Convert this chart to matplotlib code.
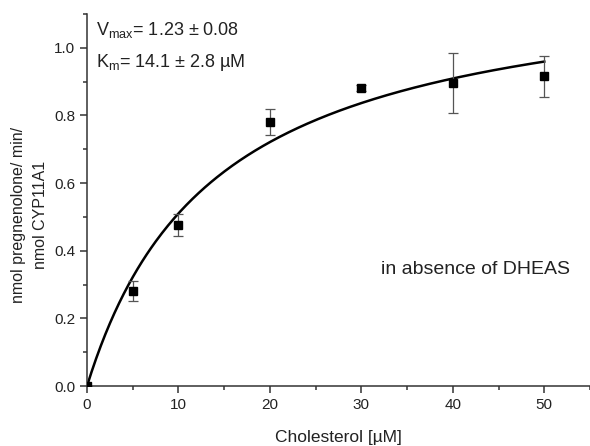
import matplotlib.pyplot as plt
import numpy as np
from matplotlib.ticker import MultipleLocator

plt.rcParams['font.family'] = ['Liberation Sans', 'DejaVu Sans']

# measured points
cholesterol = [0, 5, 10, 20, 30, 40, 50]
activity = [0.0, 0.281, 0.476, 0.780, 0.881, 0.896, 0.916]
errors = [0.0, 0.029, 0.033, 0.038, 0.008, 0.090, 0.061]

# Michaelis-Menten fit parameters
vmax = 1.23
km = 14.1

fig = plt.figure(figsize=(5.9, 4.46), dpi=100)
ax = fig.add_axes([0.1475, 0.1345, 0.8525, 0.834])

s = np.linspace(0, 50, 300)
ax.plot(s, vmax * s / (km + s), color='black', lw=1.8, zorder=2)
ax.errorbar(cholesterol, activity, yerr=errors, fmt='none', ecolor='#555555',
            elinewidth=0.9, capsize=3.5, capthick=0.9, zorder=3)
ax.plot(cholesterol, activity, 's', color='black', ms=6, zorder=4)

ax.set_xlim(0, 55)
ax.set_ylim(0, 1.1)
ax.xaxis.set_major_locator(MultipleLocator(10))
ax.xaxis.set_minor_locator(MultipleLocator(5))
ax.yaxis.set_major_locator(MultipleLocator(0.2))
ax.yaxis.set_minor_locator(MultipleLocator(0.1))
ax.yaxis.set_major_formatter(plt.FuncFormatter(lambda v, p: f'{v:.1f}'))
ax.spines['top'].set_visible(False)
ax.spines['right'].set_visible(False)
for sp in ['left', 'bottom']:
    ax.spines[sp].set_linewidth(1.1)
    ax.spines[sp].set_color('#333333')
ax.tick_params(which='major', direction='out', length=5, width=1.1, labelsize=11,
               colors='#333333', labelcolor='#222222')
ax.tick_params(which='minor', direction='out', length=3, width=1.1, colors='#333333')

ax.set_xlabel('Cholesterol [µM]', fontsize=12.5, color='#222222', labelpad=13)
ax.set_ylabel('nmol pregnenolone/ min/\nnmol CYP11A1', fontsize=11.5,
              color='#222222', linespacing=1.6)
ax.yaxis.set_label_coords(-0.0775, 0.46)

ax.text(0.018, 0.944, r'V$_{\mathregular{max}}$= 1.23 ± 0.08', transform=ax.transAxes,
        fontsize=13, va='baseline', ha='left', color='#222222')
ax.text(0.018, 0.858, r'K$_{\mathregular{m}}$= 14.1 ± 2.8 µM', transform=ax.transAxes,
        fontsize=13, va='baseline', ha='left', color='#222222')
ax.text(52.8, 0.346, 'in absence of DHEAS', fontsize=14, ha='right', va='center',
        color='#222222')

fig.savefig('out.png', dpi=100)
